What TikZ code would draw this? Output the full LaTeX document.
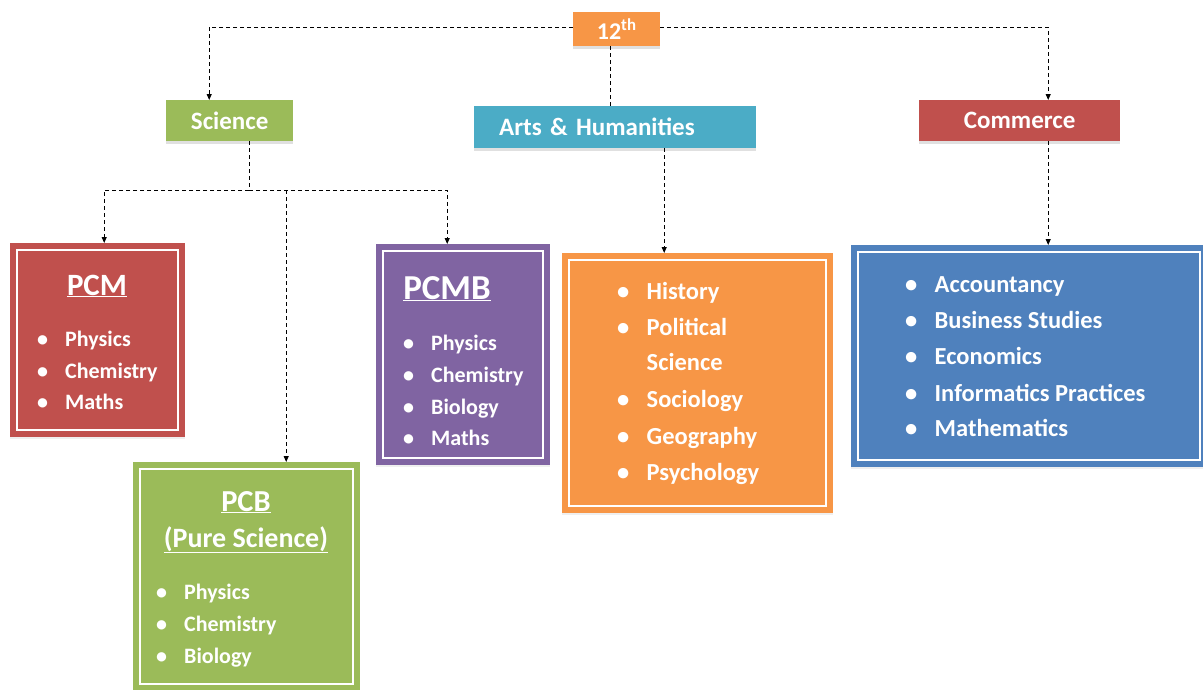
\documentclass[tikz,border=0pt]{standalone}
\usepackage{fontspec}
\setmainfont{Carlito}
\usetikzlibrary{arrows.meta,shadows}
\definecolor{cgreen}{HTML}{9BBB59}
\definecolor{cred}{HTML}{C0504D}
\definecolor{cpurple}{HTML}{8064A2}
\definecolor{cteal}{HTML}{4BACC6}
\definecolor{corange}{HTML}{F79646}
\definecolor{cblue}{HTML}{4F81BD}
\newcommand\itm[1]{\makebox[28pt][l]{\textbullet}#1}
\newcommand\itmb[1]{\makebox[29.5pt][l]{\textbullet}#1}
\begin{document}
\begin{tikzpicture}[x=1pt,y=-1pt,
  topbox/.style={rectangle, anchor=north west, inner sep=0pt, text=white,
    font=\bfseries\fontsize{25}{28}\selectfont,
    drop shadow={shadow xshift=0pt, shadow yshift=-3pt, fill=black!30, opacity=0.4}},
  listbox/.style={rectangle, anchor=north west, inner sep=0pt,
    drop shadow={shadow xshift=0pt, shadow yshift=-2pt, fill=black!20, opacity=0.3},
    path picture={\draw[white, line width=2pt]
      ([xshift=7pt,yshift=-7pt]path picture bounding box.north west) rectangle
      ([xshift=-7pt,yshift=7pt]path picture bounding box.south east);}},
  itemtxt/.style={anchor=base west, inner sep=0pt, text=white, font=\bfseries\fontsize{#1}{#1}\selectfont},
  itemtxt/.default=22,
  titletxt/.style={anchor=base, inner sep=0pt, text=white, font=\bfseries\fontsize{#1}{#1}\selectfont},
  titletxt/.default=31,
  conn/.style={draw=black, line width=1pt, dash pattern=on 4pt off 3pt},
  arr/.style={conn, -{Triangle[length=6pt,width=5pt]}}]
\useasboundingbox (0,0) rectangle (1203,689);
\fill[white] (0,0) rectangle (1203,689);

% top level boxes
\node[topbox, fill=corange, minimum width=87pt, minimum height=34pt, font=\bfseries\fontsize{24}{26}\selectfont] (twelve) at (573,12) {12\textsuperscript{th}};
\node[topbox, fill=cgreen, minimum width=127pt, minimum height=41pt] (science) at (166,100) {Science};
\node[topbox, fill=cteal, text width=232pt, inner xsep=25pt, align=left, minimum height=42pt] (arts) at (474,106) {Arts \& Humanities};
\node[topbox, fill=cred, minimum width=201pt, minimum height=41pt] (commerce) at (919,100) {Commerce};

% list boxes
\node[listbox, fill=cred, minimum width=175pt, minimum height=194pt] (pcm) at (10,243) {};
\node[listbox, fill=cpurple, minimum width=174pt, minimum height=221pt] (pcmb) at (376,244) {};
\node[listbox, fill=corange, minimum width=271pt, minimum height=260pt] (artsl) at (562,253) {};
\node[listbox, fill=cblue, minimum width=356pt, minimum height=222pt] (coml) at (851,245) {};
\node[listbox, fill=cgreen, minimum width=227pt, minimum height=229pt] (pcb) at (133,462) {};

% PCM
\node[titletxt] (pcmt) at (97,295) {\underline{PCM}};
\node[itemtxt] (pcm1) at (37,346) {\itm{Physics}};
\node[itemtxt] (pcm2) at (37,378) {\itm{Chemistry}};
\node[itemtxt] (pcm3) at (37,409) {\itm{Maths}};

% PCMB
\node[titletxt=35] (pcmbt) at (447,299) {\underline{PCMB}};
\node[itemtxt] (pcmb1) at (403,350) {\itm{Physics}};
\node[itemtxt] (pcmb2) at (403,382) {\itm{Chemistry}};
\node[itemtxt] (pcmb3) at (403,414) {\itm{Biology}};
\node[itemtxt] (pcmb4) at (403,445) {\itm{Maths}};

% Arts list
\node[itemtxt=24.5] (a1) at (617,299) {\itmb{History}};
\node[itemtxt=24.5] (a2) at (617,335) {\itmb{Political}};
\node[itemtxt=24.5] (a2b) at (617,370) {\makebox[29.5pt][l]{}Science};
\node[itemtxt=24.5] (a3) at (617,407) {\itmb{Sociology}};
\node[itemtxt=24.5] (a4) at (617,444) {\itmb{Geography}};
\node[itemtxt=24.5] (a5) at (617,480) {\itmb{Psychology}};

% Commerce list
\node[itemtxt=24.5] (c1) at (905,292) {\itmb{Accountancy}};
\node[itemtxt=24.5] (c2) at (905,328) {\itmb{Business Studies}};
\node[itemtxt=24.5] (c3) at (905,364) {\itmb{Economics}};
\node[itemtxt=24.5] (c4) at (905,401) {\itmb{Informatics Practices}};
\node[itemtxt=24.5] (c5) at (905,436) {\itmb{Mathematics}};

% PCB
\node[titletxt=30.5] (pcbt) at (246,511) {\underline{PCB}};
\node[titletxt=28] (pcbt2) at (246,547) {\underline{(Pure Science)}};
\node[itemtxt] (pcb1) at (156,599) {\itm{Physics}};
\node[itemtxt] (pcb2) at (156,631) {\itm{Chemistry}};
\node[itemtxt] (pcb3) at (156,663) {\itm{Biology}};

% connectors
\coordinate (scijunc) at (249,190);
\draw[arr] ([yshift=2pt]twelve.west) -| ([xshift=-20.5pt]science.north);
\draw[arr] ([yshift=2pt]twelve.east) -| ([xshift=28.5pt]commerce.north);
\draw[conn] ([xshift=-6.5pt]twelve.south) -- ([xshift=-6.5pt]twelve.south |- arts.north);
\draw[conn] (science.south -| scijunc) -- (scijunc);
\draw[arr] (scijunc) -| ([xshift=6.5pt]pcm.north);
\draw[arr] (scijunc) -| ([xshift=-16pt]pcmb.north);
\draw[arr] ([xshift=39.5pt]pcb.north |- scijunc) -- ([xshift=39.5pt]pcb.north);
\draw[arr] ([xshift=49pt]arts.south) -- ([xshift=49pt]arts.south |- artsl.north);
\draw[arr] ([xshift=28.5pt]commerce.south) -- ([xshift=28.5pt]commerce.south |- coml.north);
\end{tikzpicture}
\end{document}
